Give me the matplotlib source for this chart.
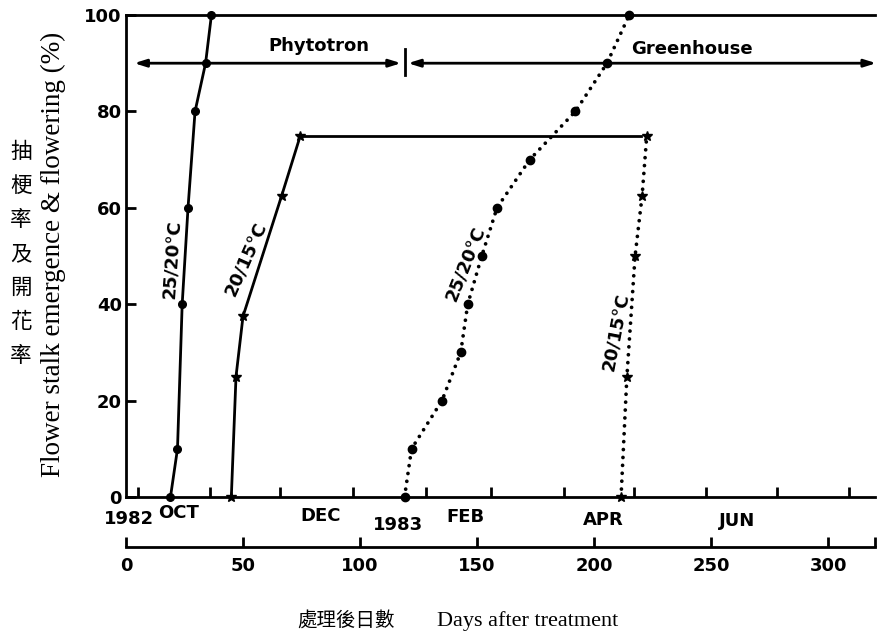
import matplotlib
matplotlib.use("Agg")
import matplotlib.pyplot as plt
from matplotlib.transforms import blended_transform_factory

# 25/20 C in phytotron (solid line, circles)
phyto_2520_days = [19, 22, 24, 26.5, 29.5, 34, 36.5]
phyto_2520_pct = [0, 10, 40, 60, 80, 90, 100]

# 20/15 C in phytotron (solid line, stars)
phyto_2015_days = [45, 47, 50, 66.5, 74.5]
phyto_2015_pct = [0, 25, 37.5, 62.5, 75]

# plateau of the 20/15 C group until it flowers in the greenhouse
plateau_days = [74.5, 220]
plateau_pct = [75, 75]

# 25/20 C group after transfer to greenhouse (dotted, circles)
green_2520_days = [119, 122, 135, 143, 146, 152, 158.5, 172.5, 192, 205.5, 215]
green_2520_pct = [0, 10, 20, 30, 40, 50, 60, 70, 80, 90, 100]

# 20/15 C group after transfer to greenhouse (dotted, stars)
green_2015_days = [211.5, 214, 217.5, 220.5, 222.5]
green_2015_pct = [0, 25, 50, 62.5, 75]

# calendar axis (day 0 = late September 1982)
month_start_days = [5, 36, 66, 97, 128, 156, 187, 217, 248, 278, 309]
month_names = ["OCT", "DEC", "FEB", "APR", "JUN"]
month_label_days = [22.5, 83, 145, 204, 261]
year_names = ["1982", "1983"]
year_label_days = [1.3, 116]

day_ticks = [0, 50, 100, 150, 200, 250, 300]
pct_ticks = [0, 20, 40, 60, 80, 100]

transfer_day = 119

W, H = 877, 637
fig = plt.figure(figsize=(W / 100, H / 100), dpi=100)
ax = fig.add_axes([126 / W, (H - 497) / H, 749 / W, 482 / H])

SANS = "DejaVu Sans"
SERIF = ["Liberation Serif", "Noto Sans CJK TC"]
LW = 2.0

dot_style = dict(color="black", lw=2.7, linestyle=(0, (0.01, 2.1)),
                 dash_capstyle="round", clip_on=False)
solid_style = dict(color="black", lw=LW, clip_on=False)

ax.plot(phyto_2520_days, phyto_2520_pct, marker="o", ms=5.5, **solid_style)
ax.plot(phyto_2015_days, phyto_2015_pct, marker="*", ms=7, **solid_style)
ax.plot(plateau_days, plateau_pct, **solid_style)
ax.plot(green_2520_days, green_2520_pct, marker="o", ms=6, **dot_style)
ax.plot(green_2015_days, green_2015_pct, marker="*", ms=7.5, **dot_style)

ax.set_xlim(0, 320)
ax.set_ylim(0, 100)

for side in ["left", "bottom", "top"]:
    ax.spines[side].set_linewidth(LW)
ax.spines["right"].set_visible(False)

ax.set_yticks(pct_ticks)
ax.set_yticklabels([str(v) for v in pct_ticks], fontfamily=SANS,
                   fontweight="bold", fontsize=13)
ax.tick_params(axis="y", direction="in", length=7, width=LW, pad=3)

ax.set_xticks(month_start_days)
ax.set_xticklabels([])
ax.tick_params(axis="x", direction="in", length=7.5, width=LW)

# calendar labels below the main axis
trans = blended_transform_factory(ax.transData, ax.transAxes)
month_offsets = [16, 19, 20, 23, 24]
for name, d, off in zip(month_names, month_label_days, month_offsets):
    ax.text(d, -off / 482, name, transform=trans, ha="center", va="center",
            fontfamily=SANS, fontweight="bold", fontsize=13)
year_offsets = [22, 28]
for name, d, off in zip(year_names, year_label_days, year_offsets):
    ax.text(d, -off / 482, name, transform=trans, ha="center", va="center",
            fontfamily=SANS, fontweight="bold", fontsize=13)

# days-after-treatment axis
ax2 = ax.twiny()
ax2.set_xlim(ax.get_xlim())
for side in ["top", "left", "right"]:
    ax2.spines[side].set_visible(False)
ax2.xaxis.set_ticks_position("bottom")
ax2.spines["bottom"].set_position(("outward", 36))
ax2.spines["bottom"].set_linewidth(LW)
ax2.set_xticks(day_ticks)
ax2.set_xticks([320], minor=True)
ax2.set_xticklabels([str(v) for v in day_ticks], fontfamily=SANS,
                    fontweight="bold", fontsize=13)
ax2.tick_params(axis="x", which="both", direction="in", length=7.5,
                width=LW, pad=7)

# Phytotron / Greenhouse periods
head = "<|-|>,head_length=0.7,head_width=0.22"
ax.annotate("", xy=(117.5, 90), xytext=(3.5, 90),
            arrowprops=dict(arrowstyle=head, color="black", lw=LW,
                            shrinkA=0, shrinkB=0), annotation_clip=False)
ax.annotate("", xy=(320.5, 90), xytext=(120.5, 90),
            arrowprops=dict(arrowstyle=head, color="black", lw=LW,
                            shrinkA=0, shrinkB=0), annotation_clip=False)
ax.plot([transfer_day, transfer_day], [87.5, 93], color="black", lw=LW)
ax.text(82.5, 93.6, "Phytotron", ha="center", va="center",
        fontfamily=SANS, fontweight="bold", fontsize=13)
ax.text(242, 93, "Greenhouse", ha="center", va="center",
        fontfamily=SANS, fontweight="bold", fontsize=13)

# curve labels
curve_labels = ["25/20°C", "20/15°C", "25/20°C", "20/15°C"]
curve_label_days = [20.1, 51.7, 145.3, 209.8]
curve_label_pct = [49.3, 49.3, 48.4, 34.3]
curve_label_rot = [86, 66, 68, 79]
for s, d, p, r in zip(curve_labels, curve_label_days, curve_label_pct,
                      curve_label_rot):
    ax.text(d, p, s, rotation=r, ha="center", va="center",
            rotation_mode="anchor", fontfamily=SANS, fontweight="bold",
            fontsize=13)

# axis titles
fig.text(53 / W, 1 - 254 / H, "Flower stalk emergence & flowering (%)",
         rotation=90, ha="center", va="center", family=SERIF, fontsize=19.5)
for i, ch in enumerate("抽梗率及開花率"):
    fig.text(21 / W, 1 - (152 + 34 * i) / H, ch, ha="center", va="center",
             family=["Noto Sans CJK TC"], fontsize=15.5)
fig.text(346 / W, 1 - 621 / H, "處理後日數", ha="center", va="center",
         family=["Noto Sans CJK TC"], fontsize=14)
fig.text(528 / W, 1 - 621 / H, "Days after treatment", ha="center",
         va="center", family=SERIF, fontsize=16)

fig.savefig("out.png", dpi=100)
